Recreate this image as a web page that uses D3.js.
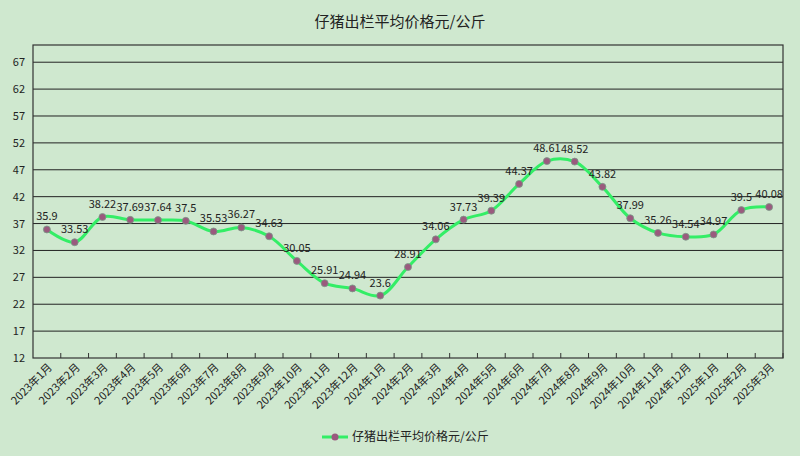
<!DOCTYPE html>
<html>
<head>
<meta charset="utf-8">
<script src="https://cdn.jsdelivr.net/npm/d3@7"></script>
<style>
body{margin:0;background:#cfe8cf;}
text{font-family:"Noto Sans CJK SC","DejaVu Sans",sans-serif;fill:#222;}
</style>
</head>
<body>
<script>
var months = ["2023年1月","2023年2月","2023年3月","2023年4月","2023年5月","2023年6月","2023年7月","2023年8月","2023年9月","2023年10月","2023年11月","2023年12月","2024年1月","2024年2月","2024年3月","2024年4月","2024年5月","2024年6月","2024年7月","2024年8月","2024年9月","2024年10月","2024年11月","2024年12月","2025年1月","2025年2月","2025年3月"];
var prices = [35.9,33.53,38.22,37.69,37.64,37.5,35.53,36.27,34.63,30.05,25.91,24.94,23.6,28.91,34.06,37.73,39.39,44.37,48.61,48.52,43.82,37.99,35.26,34.54,34.97,39.5,40.08];
var yTicks = [12,17,22,27,32,37,42,47,52,57,62,67];
var title = "仔猪出栏平均价格元/公斤";

var W = 800, H = 456, L = 33, R = 783, T = 45, B = 358;
var svg = d3.select("body").append("svg").attr("width", W).attr("height", H);

var x = d3.scaleBand().domain(months).range([L, R]);
var y = d3.scaleLinear().domain([12, 70.2]).range([B, T]);

svg.append("text").attr("x", 400).attr("y", 27).attr("text-anchor", "middle")
    .style("font-size", "15px").text(title);

svg.selectAll("line.grid").data(yTicks.slice(1)).enter().append("line")
    .attr("x1", L).attr("x2", R).attr("y1", d => y(d)).attr("y2", d => y(d))
    .attr("stroke", "#222").attr("stroke-width", 1);
svg.append("rect").attr("x", L).attr("y", T).attr("width", R - L).attr("height", B - T)
    .attr("fill", "none").attr("stroke", "#333").attr("stroke-width", 1.2);

svg.selectAll("text.yt").data(yTicks).enter().append("text")
    .attr("x", L - 8).attr("y", d => y(d) + 4).attr("text-anchor", "end")
    .style("font-size", "11px").text(d => d);

svg.selectAll("line.xt").data(months).enter().append("line")
    .attr("x1", d => x(d) + x.bandwidth()).attr("x2", d => x(d) + x.bandwidth())
    .attr("y1", B).attr("y2", B - 5).attr("stroke", "#333");

svg.selectAll("text.xl").data(months).enter().append("text")
    .attr("transform", d => "translate(" + (x(d) + x.bandwidth() / 2 + 6) + "," + (B + 10) + ") rotate(-45)")
    .attr("text-anchor", "end").style("font-size", "11px").text(d => d);

var cx = (d, i) => x(months[i]) + x.bandwidth() / 2;
var line = d3.line().x(cx).y(d => y(d)).curve(d3.curveCatmullRom.alpha(0.5));
svg.append("path").datum(prices).attr("d", line).attr("fill", "none")
    .attr("stroke", "#33ee66").attr("stroke-width", 3);

svg.selectAll("circle.pt").data(prices).enter().append("circle")
    .attr("cx", cx).attr("cy", d => y(d)).attr("r", 3.5)
    .attr("fill", "#9a5a7e").attr("stroke", "#7a9a88").attr("stroke-width", 0.8);

svg.selectAll("text.lb").data(prices).enter().append("text")
    .attr("x", cx).attr("y", d => y(d) - 9).attr("text-anchor", "middle")
    .style("font-size", "11px").text(d => d);

var lg = svg.append("g").attr("transform", "translate(322,437)");
lg.append("line").attr("x1", 0).attr("x2", 26).attr("stroke", "#33ee66").attr("stroke-width", 3);
lg.append("circle").attr("cx", 13).attr("r", 3.5).attr("fill", "#9a5a7e");
lg.append("text").attr("x", 30).attr("y", 4).style("font-size", "12px").text(title);
</script>
</body>
</html>
